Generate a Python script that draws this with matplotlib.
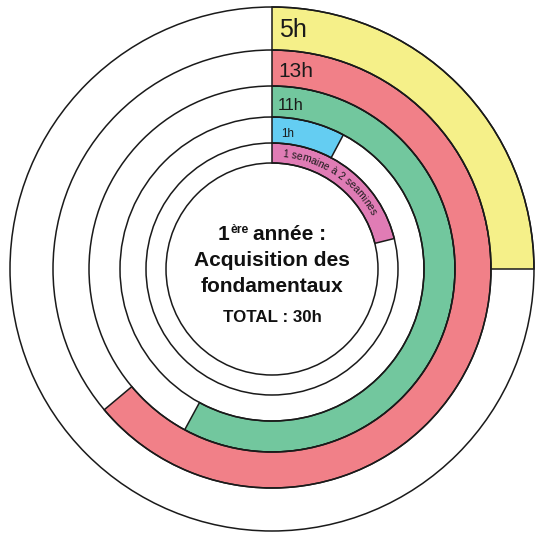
import matplotlib
matplotlib.use("Agg")
import matplotlib.pyplot as plt
from matplotlib.patches import Wedge, Circle
from matplotlib.textpath import TextToPath
from matplotlib.font_manager import FontProperties
import numpy as np

# ---- data ----
ring_labels = ["1 semaine à 2 seamines", "1h", "11h", "13h", "5h"]
ring_spans_deg = [76, 28, 208.5, 230, 90]          # clockwise from 12 o'clock
ring_colors = ["#E07CB5", "#64CDF2", "#72C79E", "#F18088", "#F5F089"]
ring_radii = [106, 126, 152, 183, 219, 262]          # boundaries (px)
label_sizes = [7.4, 8.4, 11.8, 15, 18]
center_lines = ["Acquisition des", "fondamentaux"]
total_text = "TOTAL : 30h"

FONT = "Liberation Sans"

fig = plt.figure(figsize=(5.37, 5.35), dpi=100)
ax = fig.add_axes([0, 0, 1, 1])
ax.set_xlim(-272, 265)
ax.set_ylim(-266, 269)
ax.set_aspect("equal")
ax.axis("off")

LW = 1.1
# colored arcs
for i, (span, col) in enumerate(zip(ring_spans_deg, ring_colors)):
    r_in, r_out = ring_radii[i], ring_radii[i + 1]
    w = Wedge((0, 0), r_out, 90 - span, 90, width=r_out - r_in,
              facecolor=col, edgecolor="#1a1a1a", lw=LW, zorder=2)
    ax.add_patch(w)

# full circle outlines
for r in ring_radii:
    ax.add_patch(Circle((0, 0), r, fill=False, edgecolor="#1a1a1a", lw=LW, zorder=3))

# straight labels (rings 2..5)
baselines = [None, 132, 159, 192, 232]
xoffs = [None, 9, 6, 6, 7]
for i in range(1, 5):
    ax.text(xoffs[i], baselines[i], ring_labels[i], fontsize=label_sizes[i],
            family=FONT, color="#1a1a1a", ha="left", va="baseline", zorder=4)

# curved label on the innermost ring
fp = FontProperties(family=FONT, size=label_sizes[0])
t2p = TextToPath()
px_per_pt = fig.dpi / 72.0


def adv(txt):
    # advance width (pt) of txt, robust to trailing spaces
    ref = t2p.get_text_width_height_descent("l", fp, ismath=False)[0]
    return t2p.get_text_width_height_descent(txt + "l", fp, ismath=False)[0] - ref


s = ring_labels[0]
r_base = 112.5
start = np.deg2rad(5.0)
for k, ch in enumerate(s):
    if ch == " ":
        continue
    w_prev = adv(s[:k]) if k else 0.0
    w_cur = adv(s[:k + 1])
    mid = (w_prev + w_cur) / 2 * px_per_pt
    th = start + mid / r_base
    x, y = r_base * np.sin(th), r_base * np.cos(th)
    ax.text(x, y, ch, fontproperties=fp, color="#1a1a1a", ha="center", va="baseline",
            rotation=-np.rad2deg(th), rotation_mode="anchor", zorder=4)

# center text: "1ère année :"
fb = FontProperties(family=FONT, size=15, weight="bold")
fs = FontProperties(family=FONT, size=8.8, weight="bold")
parts = [("1", fb, 0), ("ère", fs, 6.8), ("année :", fb, 0)]
gaps = [0.5, 4.5, 0]
widths = [t2p.get_text_width_height_descent(p, f, ismath=False)[0] * px_per_pt for p, f, _ in parts]
total_w = sum(widths) + sum(gaps)
x0 = -total_w / 2
base1 = 29
for (p, f, dy), w, g in zip(parts, widths, gaps):
    ax.text(x0, base1 + dy, p, fontproperties=f, color="#111111", ha="left", va="baseline", zorder=4)
    x0 += w + g

for txt, b in zip(center_lines, [3, -23]):
    ax.text(0, b, txt, fontproperties=fb, color="#111111", ha="center", va="baseline", zorder=4)

ax.text(0, -53, total_text, fontproperties=FontProperties(family=FONT, size=12.2, weight="bold"),
        color="#111111", ha="center", va="baseline", zorder=4)

fig.savefig("out.png", dpi=100, facecolor="white")
